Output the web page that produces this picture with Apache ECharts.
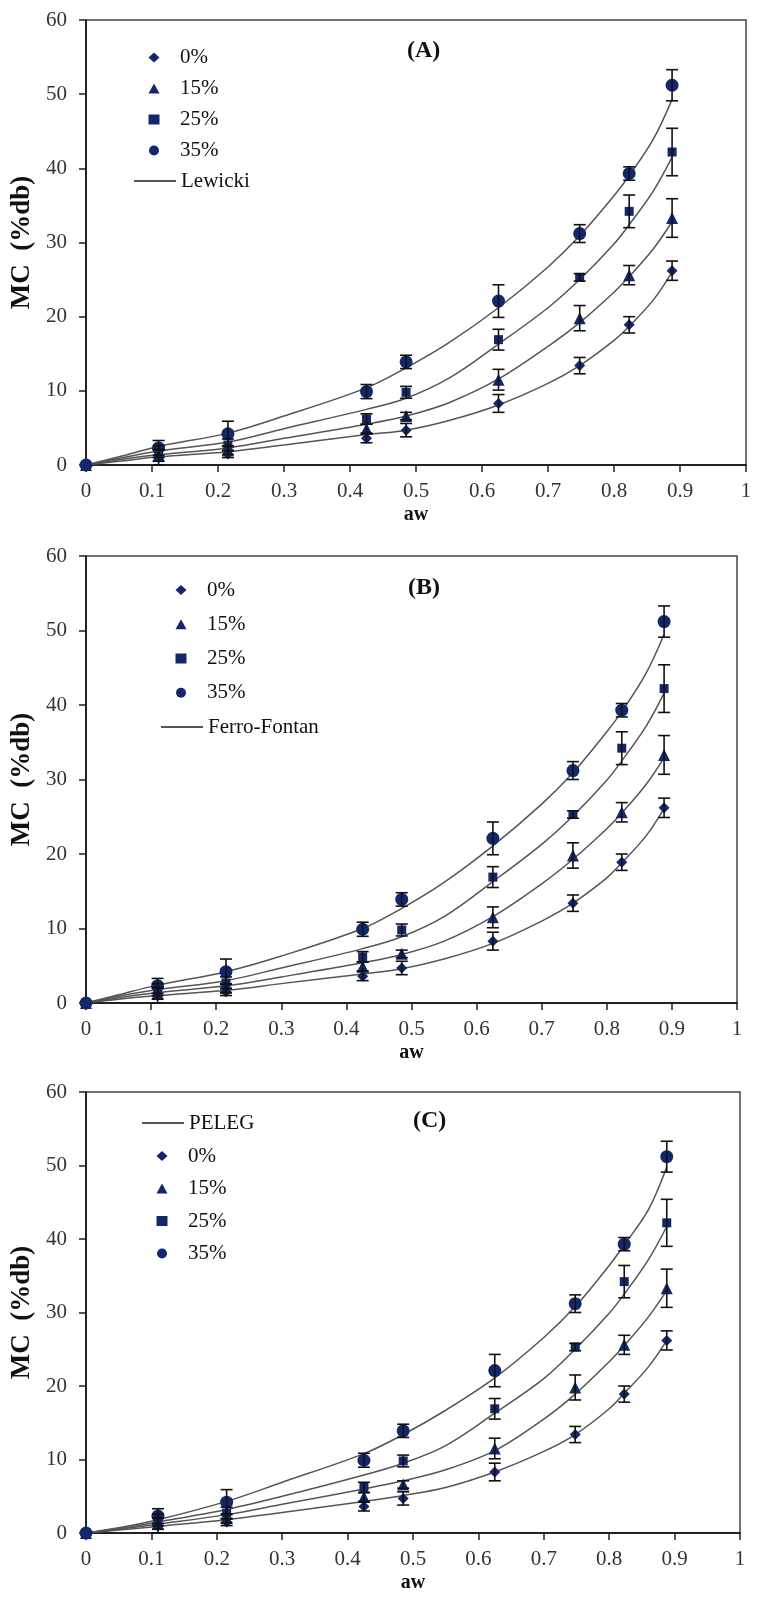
<!DOCTYPE html>
<html>
<head>
<meta charset="utf-8">
<script src="https://cdn.jsdelivr.net/npm/echarts@6/dist/echarts.min.js"></script>
<style>
html,body{margin:0;padding:0;background:#fff;}
#chart{width:780px;height:1600px;}
</style>
</head>
<body>
<div id="chart"></div>
<script>
// ---- data ----
const aw = [0, 0.11, 0.215, 0.425, 0.485, 0.625, 0.748, 0.823, 0.888];
const mc0  = [0, 1.0, 1.5, 3.6, 4.7, 8.3, 13.4, 18.9, 26.2];
const mc15 = [0, 1.3, 2.0, 4.9, 6.6, 11.5, 19.8, 25.6, 33.3];
const mc25 = [0, 1.8, 2.7, 6.2, 9.8, 16.9, 25.3, 34.2, 42.2];
const mc35 = [0, 2.3, 4.2, 9.9, 13.9, 22.1, 31.2, 39.3, 51.2];
const err0  = [0, 1.0, 0.5, 0.6, 0.9, 1.2, 1.1, 1.1, 1.3];
const err15 = [0, 0.8, 0.6, 0.6, 0.5, 1.4, 1.7, 1.3, 2.6];
const err25 = [0, 0.8, 0.8, 0.7, 0.8, 1.4, 0.5, 2.2, 3.2];
const err35 = [0, 1.0, 1.7, 0.95, 0.9, 2.2, 1.2, 0.9, 2.1];

const curveX = [0, 0.05, 0.11, 0.215, 0.3, 0.425, 0.485, 0.55, 0.625, 0.7, 0.748, 0.8, 0.823, 0.86, 0.888];
// Lewicki (A)
const lew0  = [0, 0.5, 1.1, 1.8, 2.7, 4.1, 4.7, 6.0, 8.1, 11.0, 13.4, 16.8, 18.7, 22.3, 26.0];
const lew15 = [0, 0.7, 1.4, 2.3, 3.6, 5.5, 6.6, 8.4, 11.6, 16.0, 19.2, 23.3, 25.4, 29.2, 32.8];
const lew25 = [0, 0.9, 1.9, 3.1, 4.9, 7.5, 9.0, 11.7, 16.3, 21.2, 25.0, 29.8, 32.4, 37.0, 41.5];
const lew35 = [0, 1.1, 2.5, 4.3, 6.6, 10.4, 13.1, 16.5, 21.2, 26.7, 30.9, 36.3, 39.0, 44.0, 49.3];
// Ferro-Fontan (B)
const ff0  = [0, 0.5, 1.0, 1.7, 2.6, 3.9, 4.6, 5.9, 8.0, 11.0, 13.4, 16.8, 18.8, 22.4, 26.1];
const ff15 = [0, 0.7, 1.4, 2.3, 3.5, 5.4, 6.5, 8.3, 11.6, 16.0, 19.3, 23.4, 25.5, 29.3, 32.9];
const ff25 = [0, 0.9, 1.8, 3.0, 4.7, 7.3, 8.9, 11.6, 16.3, 21.3, 25.1, 29.9, 32.5, 37.1, 41.6];
const ff35 = [0, 1.1, 2.4, 4.2, 6.3, 10.0, 12.7, 16.2, 21.1, 26.7, 30.9, 36.4, 39.1, 44.2, 49.5];
// Peleg (C)
const pel0  = [0, 0.4, 0.9, 1.8, 2.8, 4.3, 5.1, 6.2, 8.3, 11.1, 13.4, 16.9, 19.0, 22.6, 26.2];
const pel15 = [0, 0.5, 1.2, 2.5, 3.9, 6.0, 7.1, 8.6, 11.2, 15.5, 18.9, 23.3, 25.5, 29.4, 33.0];
const pel25 = [0, 0.6, 1.5, 3.2, 5.0, 7.9, 9.5, 11.9, 16.3, 21.0, 25.0, 29.9, 32.5, 37.2, 41.7];
const pel35 = [0, 0.7, 1.8, 4.3, 6.9, 10.8, 13.4, 16.7, 21.1, 26.6, 30.8, 36.4, 39.2, 44.0, 49.8];

const groupNames = ['0%', '15%', '25%', '35%'];
const xTicks = ['0', '0.1', '0.2', '0.3', '0.4', '0.5', '0.6', '0.7', '0.8', '0.9', '1'];

// ---- layout/styles ----
const FONT = 'Liberation Serif';
const NAVY = '#13286b';
const symbols = ['diamond', 'triangle', 'rect', 'circle'];
const symSizes = [11, 12, 9, 13];
const mcs = [mc0, mc15, mc25, mc35];
const errs = [err0, err15, err25, err35];

const panels = [
  {grid: {left: 86, top: 20, width: 660, height: 445}, model: 'Lewicki', curves: [lew0, lew15, lew25, lew35],
   label: '(A)', labelPos: {left: 407, top: 39},
   leg: {lineLeft: 133, markTop: 47, markGap: 10, modelTop: 170.5}},
  {grid: {left: 86, top: 556, width: 651, height: 447}, model: 'Ferro-Fontan', curves: [ff0, ff15, ff25, ff35],
   label: '(B)', labelPos: {left: 408, top: 576},
   leg: {lineLeft: 160, markTop: 579.5, markGap: 13.25, modelTop: 716.5}},
  {grid: {left: 86, top: 1092, width: 654, height: 441}, model: 'PELEG', curves: [pel0, pel15, pel25, pel35],
   label: '(C)', labelPos: {left: 413, top: 1109},
   leg: {lineLeft: 141, markTop: 1145.5, markGap: 11.5, modelTop: 1112.5}}
];

const grids = [], xAxes = [], yAxes = [], series = [], legends = [], titles = [];

function errRender(params, api) {
  const x = api.value(0);
  const lo = api.coord([x, api.value(1)]);
  const hi = api.coord([x, api.value(2)]);
  const w = 6;
  const st = {stroke: '#111', lineWidth: 1.6};
  return {type: 'group', children: [
    {type: 'line', shape: {x1: hi[0], y1: hi[1], x2: lo[0], y2: lo[1]}, style: st},
    {type: 'line', shape: {x1: hi[0] - w, y1: hi[1], x2: hi[0] + w, y2: hi[1]}, style: st},
    {type: 'line', shape: {x1: lo[0] - w, y1: lo[1], x2: lo[0] + w, y2: lo[1]}, style: st}
  ]};
}

const legText = {fontFamily: FONT, fontSize: 21, color: '#111', lineHeight: 21};

panels.forEach((p, k) => {
  grids.push(Object.assign({show: true, borderColor: '#444', borderWidth: 1.5, backgroundColor: 'transparent'}, p.grid));
  xAxes.push({
    type: 'value', gridIndex: k, min: 0, max: 1, interval: 0.1,
    name: 'aw', nameLocation: 'middle', nameGap: 40,
    nameTextStyle: {fontFamily: FONT, fontWeight: 'bold', fontSize: 20, color: '#111'},
    axisLine: {show: true, onZero: false, lineStyle: {color: '#222', width: 2}},
    axisTick: {show: true, inside: false, length: 7, lineStyle: {color: '#222', width: 1.5}},
    axisLabel: {fontFamily: FONT, fontSize: 21, color: '#333', margin: 16,
      formatter: (v) => xTicks[Math.round(v * 10)]},
    splitLine: {show: false}
  });
  yAxes.push({
    type: 'value', gridIndex: k, min: 0, max: 60, interval: 10,
    name: 'MC  (%db)', nameLocation: 'middle', nameGap: 44, nameRotate: 90,
    nameTextStyle: {fontFamily: FONT, fontWeight: 'bold', fontSize: 27, color: '#111'},
    axisLine: {show: true, lineStyle: {color: '#222', width: 2}},
    axisTick: {show: true, inside: false, length: 7, lineStyle: {color: '#222', width: 1.5}},
    axisLabel: {fontFamily: FONT, fontSize: 21, color: '#333', margin: 19},
    splitLine: {show: false}
  });
  // model curves
  p.curves.forEach((c) => {
    series.push({
      type: 'line', name: p.model, xAxisIndex: k, yAxisIndex: k, smooth: 0.35,
      symbol: 'none', silent: true, z: 2,
      lineStyle: {color: '#555', width: 1.5},
      itemStyle: {color: '#555'},
      data: curveX.map((x, i) => [x, c[i]])
    });
  });
  // points
  groupNames.forEach((g, j) => {
    series.push({
      type: 'scatter', name: g, xAxisIndex: k, yAxisIndex: k,
      symbol: symbols[j], symbolSize: symSizes[j], z: 3,
      itemStyle: {color: NAVY, opacity: 1},
      data: aw.map((x, i) => [x, mcs[j][i]])
    });
    series.push({
      type: 'custom', name: g + ' err', xAxisIndex: k, yAxisIndex: k, z: 4,
      renderItem: errRender, silent: true,
      encode: {x: 0, y: [1, 2]},
      data: aw.map((x, i) => [x, mcs[j][i] - errs[j][i], mcs[j][i] + errs[j][i]]).filter(d => d[0] > 0)
    });
  });
  // legend: markers
  legends.push({
    orient: 'vertical', left: p.leg.lineLeft + 15.5, top: p.leg.markTop, itemGap: p.leg.markGap, padding: 0,
    itemWidth: 11, itemHeight: 10, selectedMode: false,
    textStyle: Object.assign({padding: [0, 0, 0, 15.5]}, legText),
    data: groupNames.map((g) => ({name: g}))
  });
  // legend: model line
  legends.push({
    orient: 'vertical', left: p.leg.lineLeft, top: p.leg.modelTop, padding: 0,
    itemWidth: 42, itemHeight: 10, selectedMode: false,
    textStyle: legText,
    data: [{name: p.model, itemStyle: {color: 'rgba(0,0,0,0)', borderColor: 'rgba(0,0,0,0)', borderWidth: 0}}]
  });
  titles.push({
    text: p.label, left: p.labelPos.left, top: p.labelPos.top, padding: 0,
    textStyle: {fontFamily: FONT, fontWeight: 'bold', fontSize: 24, color: '#111'}
  });
});

const chart = echarts.init(document.getElementById('chart'), null, {renderer: 'canvas'});
chart.setOption({
  animation: false,
  backgroundColor: '#fff',
  title: titles,
  legend: legends,
  grid: grids,
  xAxis: xAxes,
  yAxis: yAxes,
  series: series
});
</script>
</body>
</html>
